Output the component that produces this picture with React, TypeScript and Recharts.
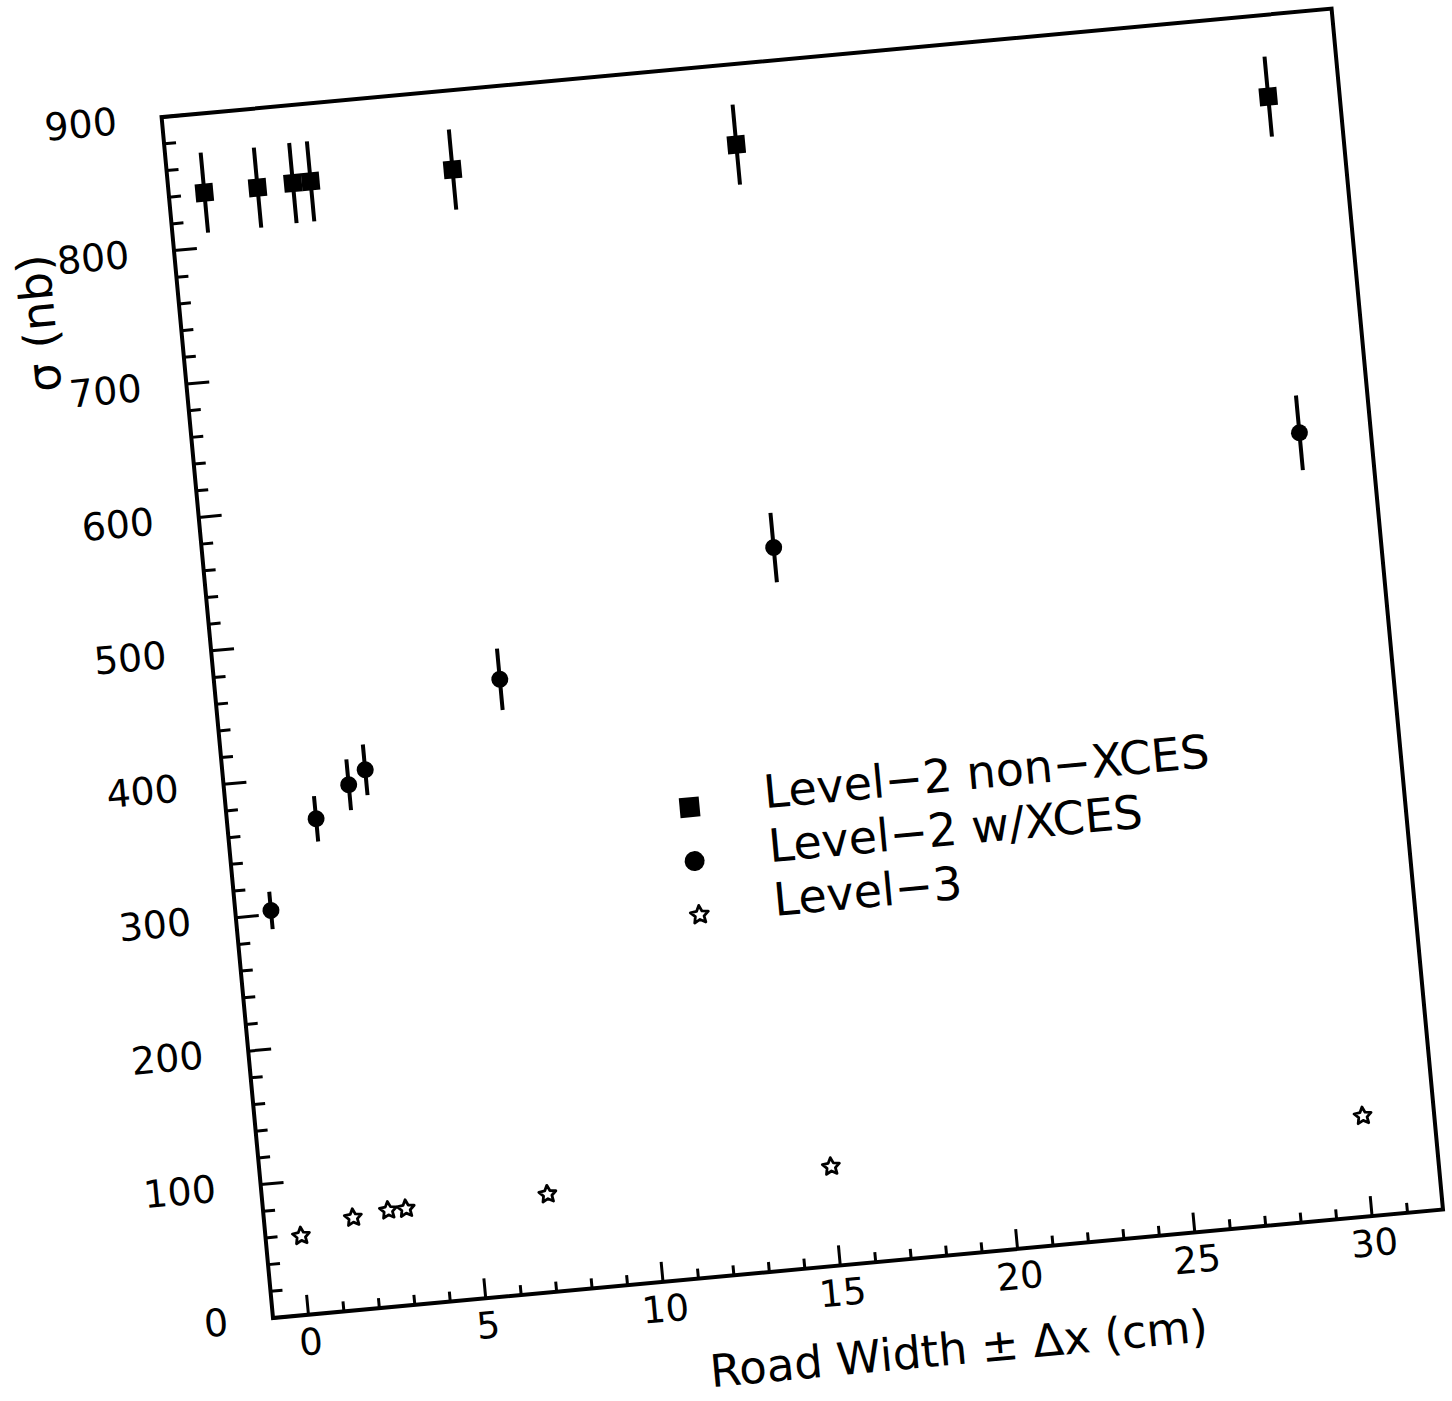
import { ScatterChart, Scatter, XAxis, YAxis, ErrorBar, ReferenceArea, Legend } from 'recharts';

// Road width (cm) for every measured point
const roadWidth = [0, 1.5, 2.5, 3, 7, 15, 30];

// cross sections (nb)
const level2NonXces = [841, 841, 842, 842, 841, 840, 839];
const level2NonXcesErr = [30, 30, 30, 30, 30, 30, 30];
const level2WithXces = [303, 368, 391, 401, 459, 538, 587];
const level2WithXcesErr = [14, 17, 19, 19, 23, 26, 28];
const level3 = [59, 69, 72, 72, 73, 74, 75];

const seriesNames = ['Level\u22122 non\u2212XCES', 'Level\u22122 w/XCES', 'Level\u22123'];

// labelled ticks, minor ticks fill the gaps
const xTickLabels = [0, 5, 10, 15, 20, 25, 30];
const yTickLabels = [0, 100, 200, 300, 400, 500, 600, 700, 800, 900];
const X_MINOR = 1;
const Y_MINOR = 20;

const xTicks: number[] = [];
for (let v = 0; v <= 31; v += X_MINOR) xTicks.push(v);
const yTicks: number[] = [];
for (let v = 0; v <= 900; v += Y_MINOR) yTicks.push(v);

const FONT = '"DejaVu Sans", sans-serif';

// layout
const W = 1385;
const H = 1356;
const MARGIN = { top: 20, right: 10, bottom: 10, left: 20 };
const Y_AXIS_W = 180;
const X_AXIS_H = 120;
const PLOT_LEFT = MARGIN.left + Y_AXIS_W;
const PLOT_BOTTOM = H - MARGIN.bottom - X_AXIS_H;

const nonXcesData = roadWidth.map((x, i) => ({ x, y: level2NonXces[i], err: level2NonXcesErr[i] }));
const withXcesData = roadWidth.map((x, i) => ({ x, y: level2WithXces[i], err: level2WithXcesErr[i] }));
const level3Data = roadWidth.map((x, i) => ({ x, y: level3[i] }));

function starPoints(cx: number, cy: number, R: number, r: number) {
  const pts: string[] = [];
  for (let k = 0; k < 10; k++) {
    const a = -Math.PI / 2 + (k * Math.PI) / 5;
    const rad = k % 2 === 0 ? R : r;
    pts.push(`${cx + rad * Math.cos(a)},${cy + rad * Math.sin(a)}`);
  }
  return pts.join(' ');
}

const SquareDot = (props: any) => {
  const { cx, cy } = props;
  return <rect x={cx - 9} y={cy - 9} width={18} height={18} fill="#000" />;
};

const CircleDot = (props: any) => {
  const { cx, cy } = props;
  return <circle cx={cx} cy={cy} r={8.5} fill="#000" />;
};

const StarDot = (props: any) => {
  const { cx, cy } = props;
  return <polygon points={starPoints(cx, cy, 9, 4.4)} fill="#fff" stroke="#000" strokeWidth={2.8} strokeLinejoin="round" />;
};

const XTick = (props: any) => {
  const { x, y, payload } = props;
  const v = payload.value;
  const major = xTickLabels.includes(v);
  return (
    <g>
      <line x1={x} x2={x} y1={y} y2={y - (major ? 20 : 10)} stroke="#000" strokeWidth={3} />
      {major && (
        <text x={x} y={y + 40} textAnchor="middle" fontSize={37} fontFamily={FONT} fill="#000">
          {v}
        </text>
      )}
    </g>
  );
};

const YTick = (props: any) => {
  const { x, y, payload } = props;
  const v = payload.value;
  const major = yTickLabels.includes(v);
  return (
    <g>
      <line x1={x} x2={x + (major ? 23 : 12)} y1={y} y2={y} stroke="#000" strokeWidth={3} />
      {major && (
        <text x={x - 45} y={y + 13} textAnchor="end" fontSize={38} fontFamily={FONT} fill="#000">
          {v}
        </text>
      )}
    </g>
  );
};

const XTitle = () => (
  <text x={PLOT_LEFT + 680} y={PLOT_BOTTOM + 94} textAnchor="middle" dominantBaseline="central" fontSize={45} fontFamily={FONT} fill="#000">
    Road Width ± Δx (cm)
  </text>
);

const YTitle = () => {
  const x = PLOT_LEFT - 141;
  const y = PLOT_BOTTOM - 1012;
  return (
    <text x={x} y={y} transform={`rotate(-90 ${x} ${y})`} textAnchor="middle" dominantBaseline="central" fontSize={46} fontFamily={FONT} fill="#000">
      σ (nb)
    </text>
  );
};

const LegendBox = (props: any) => {
  const names = (props.payload || []).map((p: any) => p.value);
  const labels = names.length === 3 ? names : seriesNames;
  return (
    <svg width={640} height={180} style={{ display: 'block', overflow: 'visible' }}>
      <rect x={12} y={26} width={20} height={20} fill="#000" />
      <circle cx={22} cy={90} r={10} fill="#000" />
      <polygon points={starPoints(22, 144, 9.5, 4.6)} fill="#fff" stroke="#000" strokeWidth={2.8} strokeLinejoin="round" />
      {labels.map((t: string, i: number) => (
        <text key={t} x={97} y={44 + 54 * i} fontSize={46} fontFamily={FONT} fill="#000">
          {t}
        </text>
      ))}
    </svg>
  );
};

export default function App() {
  return (
    <div style={{ position: 'absolute', left: 0, top: 0, width: 1452, height: 1401, overflow: 'hidden', background: '#fff' }}>
      <div
        style={{
          position: 'absolute',
          left: 273 - PLOT_LEFT,
          top: 1318 - PLOT_BOTTOM,
          width: W,
          height: H,
          transform: 'rotate(-5.3deg)',
          transformOrigin: `${PLOT_LEFT}px ${PLOT_BOTTOM}px`,
        }}
      >
        <ScatterChart width={W} height={H} margin={MARGIN}>
          <XAxis
            type="number"
            dataKey="x"
            domain={[-1, 32]}
            ticks={xTicks}
            interval={0}
            tickSize={0}
            tickMargin={0}
            tickLine={false}
            axisLine={false}
            tick={<XTick />}
            height={X_AXIS_H}
            label={<XTitle />}
          />
          <YAxis
            type="number"
            dataKey="y"
            domain={[0, 900]}
            ticks={yTicks}
            interval={0}
            tickSize={0}
            tickMargin={0}
            tickLine={false}
            axisLine={false}
            tick={<YTick />}
            width={Y_AXIS_W}
            label={<YTitle />}
          />
          <ReferenceArea x1={-1} x2={32} y1={0} y2={900} fill="none" stroke="#000" strokeWidth={4} ifOverflow="visible" />
          <Scatter name={seriesNames[0]} data={nonXcesData} shape={SquareDot} isAnimationActive={false}>
            <ErrorBar dataKey="err" direction="y" width={0} stroke="#000" strokeWidth={4} isAnimationActive={false} />
          </Scatter>
          <Scatter name={seriesNames[1]} data={withXcesData} shape={CircleDot} isAnimationActive={false}>
            <ErrorBar dataKey="err" direction="y" width={0} stroke="#000" strokeWidth={4} isAnimationActive={false} />
          </Scatter>
          <Scatter name={seriesNames[2]} data={level3Data} shape={StarDot} isAnimationActive={false} />
          <Legend
            layout="horizontal"
            verticalAlign="middle"
            align="center"
            wrapperStyle={{ left: PLOT_LEFT + 440, top: PLOT_BOTTOM - 506, width: 640, height: 180 }}
            content={<LegendBox />}
          />
        </ScatterChart>
      </div>
    </div>
  );
}
